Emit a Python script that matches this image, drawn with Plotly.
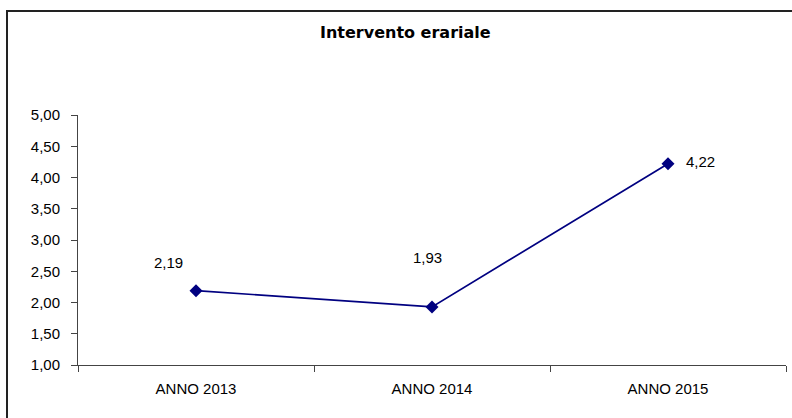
import plotly.graph_objects as go

categories = ["ANNO 2013", "ANNO 2014", "ANNO 2015"]
values = [2.19, 1.93, 4.22]
value_labels = ["2,19", "1,93", "4,22"]
title_text = "Intervento erariale"

FONT = "Liberation Sans, Arial"

fig = go.Figure()
fig.add_trace(go.Scatter(
    x=categories, y=values, mode="lines+markers",
    line=dict(color="#000080", width=1.7),
    marker=dict(symbol="diamond", size=10, color="#000080"),
    showlegend=False, hoverinfo="skip",
))

label_shifts = [(-28, 28), (-5, 49), (32, 2)]
for c, v, t, (dx, dy) in zip(categories, values, value_labels, label_shifts):
    fig.add_annotation(x=c, y=v, text=t, showarrow=False,
                       xshift=dx, yshift=dy,
                       font=dict(family=FONT, size=15, color="#000"))

fig.add_annotation(xref="paper", yref="paper", x=0.463, y=1.328, yanchor="middle",
                   text="<b>" + title_text + "</b>",
                   showarrow=False, font=dict(family="DejaVu Sans", size=16, color="#000"))

fig.update_layout(
    width=792, height=418,
    margin=dict(l=78, r=6, t=115, b=53),
    paper_bgcolor="white", plot_bgcolor="white",
    separators=",.",
    font=dict(family=FONT, size=15, color="#000"),
    xaxis=dict(
        type="category", range=[-0.5, 2.5], tickson="boundaries",
        ticks="outside", ticklen=6, tickcolor="#444", showline=True,
        linecolor="#444", linewidth=1, showgrid=False, zeroline=False,
        tickfont=dict(size=15), ticklabelstandoff=10, fixedrange=True,
    ),
    yaxis=dict(
        range=[1, 5], dtick=0.5, tick0=1, tickformat=".2f",
        ticks="outside", ticklen=6, tickcolor="#444", showline=True,
        linecolor="#444", linewidth=1, showgrid=False, zeroline=False,
        tickfont=dict(size=15), ticklabelstandoff=8, fixedrange=True,
    ),
)

# page styling: no body margin, and the chart's outer frame (left and top edges)
post = (
    "document.documentElement.style.overflow='hidden';"
    "document.body.style.margin='0';document.body.style.overflow='hidden';"
    "var f=document.createElement('div');"
    "f.style.cssText='position:absolute;left:6px;top:10px;width:900px;height:600px;"
    "border-left:2px solid #222;border-top:2px solid #222;pointer-events:none;box-sizing:border-box;';"
    "document.body.appendChild(f);"
)

fig.write_html("out.html", config={"displayModeBar": False}, post_script=post)
